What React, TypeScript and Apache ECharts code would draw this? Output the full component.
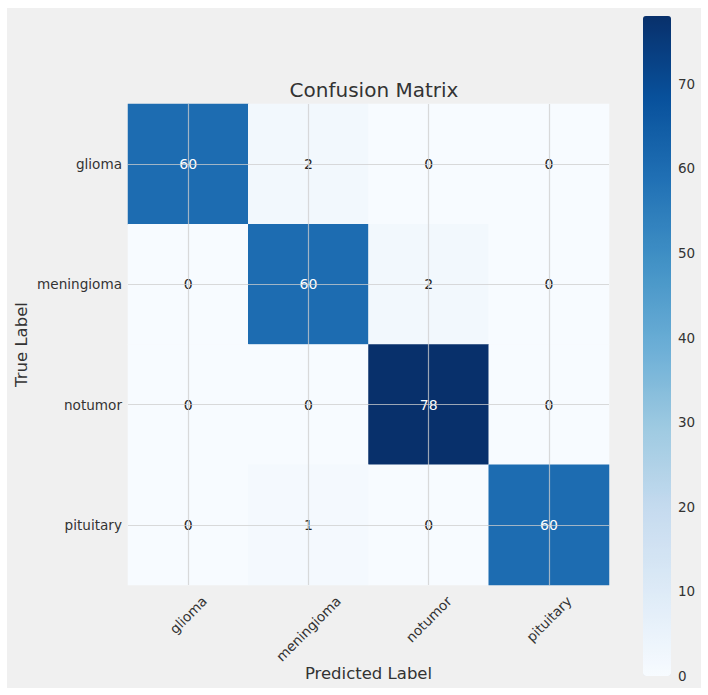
import React, { useEffect, useRef } from 'react';
import * as echarts from 'echarts';

// Class names for both axes of the confusion matrix
const trueLabels = ['glioma', 'meningioma', 'notumor', 'pituitary'];
const predictedLabels = ['glioma', 'meningioma', 'notumor', 'pituitary'];

// Rows: true class, columns: predicted class
const glioma = [60, 2, 0, 0];
const meningioma = [0, 60, 2, 0];
const notumor = [0, 0, 78, 0];
const pituitary = [0, 1, 0, 60];
const counts = [glioma, meningioma, notumor, pituitary];

// Colour bar tick labels
const colorbarTicks = [0, 10, 20, 30, 40, 50, 60, 70];

// Matplotlib "Blues" colormap stops
const blues = ['#f7fbff', '#deebf7', '#c6dbef', '#9ecae1', '#6baed6', '#4292c6', '#2171b5', '#08519c', '#08306b'];

const FONT = 'DejaVu Sans';
const TICK_SIZE = 13.6;

// Width of a tick label in pixels
function textWidth(s: string, size: number): number {
  const ctx = document.createElement('canvas').getContext('2d');
  if (!ctx) return s.length * size * 0.6;
  ctx.font = `${size}px "${FONT}"`;
  return ctx.measureText(s).width;
}

export default function App() {
  const ref = useRef<HTMLDivElement>(null);

  useEffect(() => {
    if (!ref.current) return;
    const chart = echarts.init(ref.current, null, { renderer: 'svg' });

    const maxCount = Math.max(...counts.map((r) => Math.max(...r)));
    const thresh = maxCount / 2;

    const cells: any[] = [];
    counts.forEach((row, i) =>
      row.forEach((v, j) => {
        cells.push({
          value: [j, i, v],
          label: { color: v > thresh ? '#ffffff' : '#262626' },
        });
      })
    );

    // Rotated x tick labels: centred horizontally on the tick with the top of
    // their rotated box a fixed distance below the plot. Each label is pushed
    // down by half its rotated box height using token padding.
    const labelTop = 8;
    const lineH = TICK_SIZE * 1.17;
    const rich: Record<string, any> = {};
    predictedLabels.forEach((name, i) => {
      const w = textWidth(name, TICK_SIZE);
      const dy = labelTop + Math.SQRT1_2 * (w + lineH) / 2;
      const p = Math.SQRT2 * dy;
      rich['t' + i] = {
        fontFamily: FONT,
        fontSize: TICK_SIZE,
        color: '#333333',
        padding: [p, p, 0, 0],
      };
    });

    chart.setOption({
      animation: false,
      backgroundColor: '#ffffff',
      textStyle: { fontFamily: FONT },
      graphic: [
        {
          type: 'rect',
          z: -100,
          silent: true,
          shape: { x: 7, y: 8, width: 694, height: 680 },
          style: { fill: '#f0f0f0' },
        },
      ],
      title: {
        text: 'Confusion Matrix',
        left: 369,
        top: 75,
        textAlign: 'center',
        textStyle: { fontFamily: FONT, fontSize: 20, fontWeight: 'normal', color: '#333333' },
      },
      grid: [
        { left: 128, top: 104, width: 481, height: 481 },
        { left: 643, top: 16, width: 28, height: 660 },
      ],
      xAxis: [
        {
          type: 'category',
          gridIndex: 0,
          data: predictedLabels,
          axisLine: { show: false },
          axisTick: { show: false },
          splitLine: { show: false },
          axisLabel: {
            rotate: 45,
            align: 'center',
            verticalAlign: 'middle',
            margin: 0,
            fontFamily: FONT,
            fontSize: TICK_SIZE,
            color: '#333333',
            formatter: (v: string) => `{t${predictedLabels.indexOf(v)}|${v}}`,
            rich,
          },
          name: 'Predicted Label',
          nameLocation: 'middle',
          nameGap: 80,
          nameMoveOverlap: false,
          nameTextStyle: { fontFamily: FONT, fontSize: 16.5, color: '#333333' },
        },
        { type: 'value', gridIndex: 1, show: false, min: 0, max: 1 },
      ],
      yAxis: [
        {
          type: 'category',
          gridIndex: 0,
          data: trueLabels,
          inverse: true,
          axisLine: { show: false },
          axisTick: { show: false },
          splitLine: { show: false },
          axisLabel: { margin: 6, fontFamily: FONT, fontSize: TICK_SIZE, color: '#333333' },
          name: 'True Label',
          nameLocation: 'middle',
          nameGap: 98,
          nameMoveOverlap: false,
          nameTextStyle: { fontFamily: FONT, fontSize: 16.5, color: '#333333' },
        },
        {
          type: 'value',
          gridIndex: 1,
          position: 'right',
          min: 0,
          max: maxCount,
          interval: 10,
          axisLine: { show: false },
          axisTick: { show: false },
          splitLine: { show: false },
          axisLabel: {
            margin: 7,
            fontFamily: FONT,
            fontSize: 13.5,
            color: '#333333',
            formatter: (v: number) => (colorbarTicks.includes(v) ? String(v) : ''),
          },
        },
      ],
      visualMap: {
        type: 'continuous',
        seriesIndex: 0,
        min: 0,
        max: maxCount,
        calculable: false,
        hoverLink: false,
        orient: 'vertical',
        left: 643,
        top: 16,
        padding: 0,
        itemWidth: 28,
        itemHeight: 660,
        text: null,
        showLabel: false,
        inRange: { color: blues },
      },
      series: [
        {
          type: 'heatmap',
          xAxisIndex: 0,
          yAxisIndex: 0,
          data: cells,
          label: {
            show: true,
            fontFamily: FONT,
            fontSize: 14,
            formatter: (p: any) => String(p.value[2]),
          },
          emphasis: { disabled: true },
          markLine: {
            silent: true,
            symbol: 'none',
            label: { show: false },
            emphasis: { disabled: true },
            lineStyle: { color: 'rgba(205,205,205,0.75)', width: 1.2, type: 'solid' },
            data: [
              ...predictedLabels.map((c) => ({ xAxis: c })),
              ...trueLabels.map((c) => ({ yAxis: c })),
            ],
          },
        },
      ],
    });

    return () => chart.dispose();
  }, []);

  return (
    <div
      ref={ref}
      style={{ position: 'absolute', left: 0, top: 0, width: 708, height: 695 }}
    />
  );
}
